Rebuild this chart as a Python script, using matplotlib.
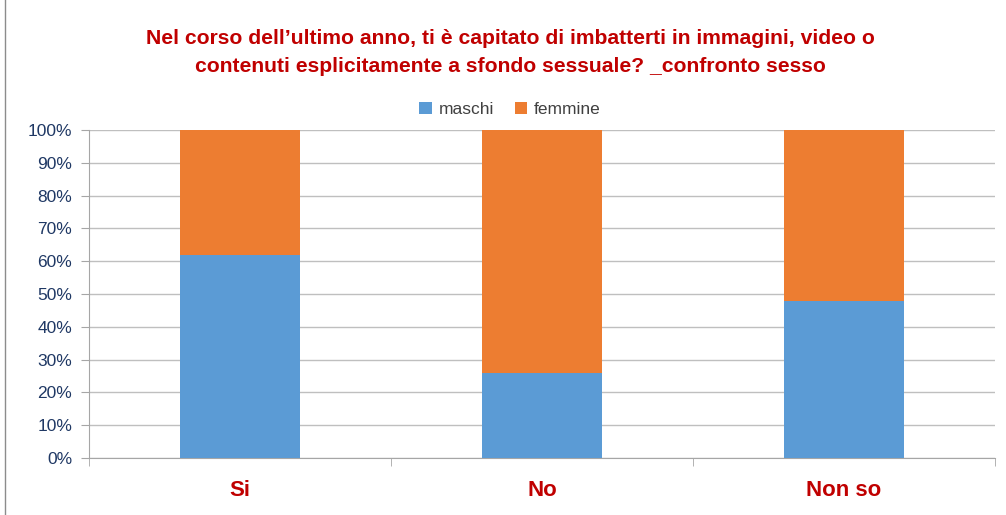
import numpy as np
import matplotlib.pyplot as plt
from matplotlib.patches import Rectangle

categories = ['Si', 'No', 'Non so']
maschi = [62, 26, 48]
femmine = [38, 74, 52]
yticks = [0, 10, 20, 30, 40, 50, 60, 70, 80, 90, 100]

title = ("Nel corso dell\u2019ultimo anno, ti \u00e8 capitato di imbatterti in immagini, video o\n"
         "contenuti esplicitamente a sfondo sessuale? _confronto sesso")

blue = '#5B9BD5'
orange = '#ED7D31'
red = '#C00000'
tick_col = '#1F3864'

plt.rcParams['font.family'] = ['Liberation Sans', 'DejaVu Sans']

fig = plt.figure(figsize=(10.06, 5.15), dpi=100)
ax = fig.add_axes([0.0885, 0.1107, 0.9005, 0.6369])

x = np.arange(len(categories))
ax.bar(x, maschi, width=0.4, color=blue, label='maschi', zorder=3)
ax.bar(x, femmine, width=0.4, bottom=maschi, color=orange, label='femmine', zorder=3)

ax.set_xlim(-0.5, len(categories) - 0.5)
ax.set_ylim(0, 100)
ax.set_yticks(yticks)
ax.set_yticklabels([f'{v}%' for v in yticks], color=tick_col, fontsize=12.5)
ax.yaxis.grid(True, color='#BFBFBF', linewidth=1, zorder=0)

ax.set_xticks(x)
ax.set_xticklabels(categories, color=red, fontsize=16, fontweight='bold')
ax.set_xticks(np.arange(len(categories) + 1) - 0.5, minor=True)
ax.tick_params(axis='x', which='major', length=0, pad=16)
ax.tick_params(axis='x', which='minor', length=6, color='#A6A6A6', direction='out')
ax.tick_params(axis='y', length=6, color='#A6A6A6', pad=6)

for s in ['top', 'right']:
    ax.spines[s].set_visible(False)
ax.spines['left'].set_color('#A6A6A6')
ax.spines['bottom'].set_color('#A6A6A6')

fig.text(0.507, 0.898, title, ha='center', va='center', color=red,
         fontsize=15.2, fontweight='bold', linespacing=1.6)

fig.legend(loc='center', bbox_to_anchor=(0.507, 0.787), ncol=2, frameon=False,
           fontsize=12.5, handlelength=0.7, handleheight=0.7, handletextpad=0.4,
           columnspacing=1.2, labelcolor='#404040')

fig.patches.append(Rectangle((0.005, -0.01), 1.1, 1.1, transform=fig.transFigure,
                             fill=False, edgecolor='#8C8C8C', linewidth=1))

fig.savefig('out.png', dpi=100)
